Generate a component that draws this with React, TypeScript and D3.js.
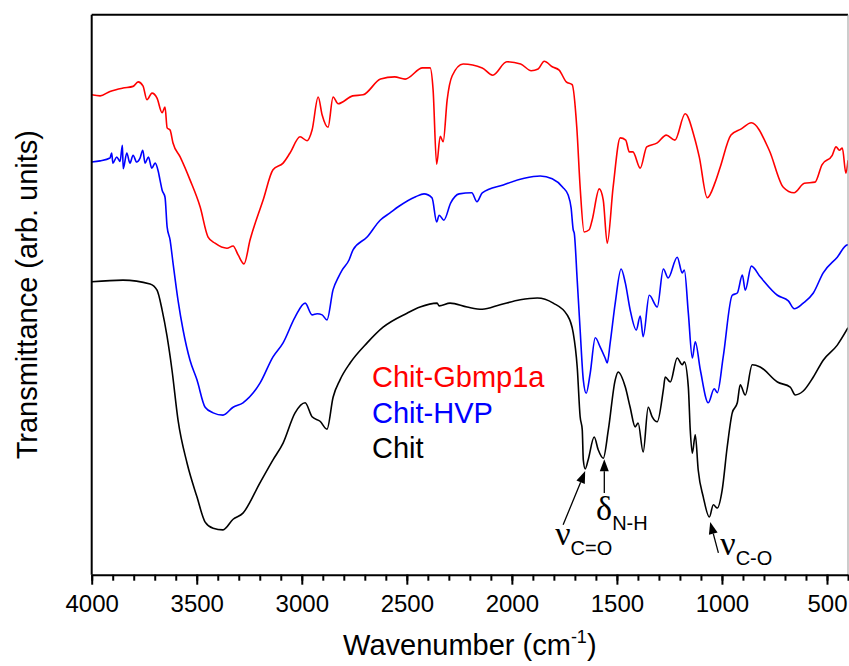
import React, { useRef, useEffect } from "react";
import * as d3 from "d3";

// FTIR spectra, [wavenumber (cm-1), transmittance (arb. units)]
const chitGbmp1a: [number, number][] = [
  [4000, 85.7], [3960, 85.5], [3913, 86.3], [3851, 86.9], [3803, 87.2], [3779, 88.0],
  [3756, 87.3], [3737, 84.8], [3713, 86.0], [3689, 85.1], [3665, 82.5], [3651, 83.5],
  [3641, 79.8], [3627, 79.4], [3613, 77.1], [3579, 74.6], [3532, 70.5], [3484, 65.7],
  [3446, 60.3], [3413, 59.2], [3356, 58.3], [3327, 58.7], [3303, 57.1], [3275, 55.5],
  [3246, 59.8], [3184, 66.9], [3137, 72.3], [3089, 73.5], [3056, 75.3], [3008, 78.2],
  [2975, 77.5], [2951, 79.4], [2922, 85.3], [2903, 82.1], [2875, 79.9], [2851, 85.3],
  [2827, 84.1], [2758, 85.5], [2708, 85.7], [2625, 88.5], [2558, 88.9], [2508, 88.5],
  [2425, 90.5], [2389, 90.5], [2375, 86.6], [2358, 73.3], [2341, 78.3], [2327, 77.3],
  [2308, 84.8], [2284, 89.1], [2232, 91.2], [2141, 90.5], [2091, 89.2], [2024, 91.6],
  [1958, 91.2], [1908, 90.0], [1875, 90.3], [1846, 91.7], [1808, 90.7], [1775, 90.1],
  [1741, 88.0], [1713, 87.5], [1691, 79.9], [1675, 69.2], [1656, 61.2], [1632, 61.6],
  [1618, 63.3], [1584, 68.9], [1565, 66.9], [1546, 59.2], [1518, 69.2], [1484, 78.0],
  [1458, 77.6], [1441, 75.5], [1424, 75.5], [1389, 72.6], [1358, 76.4], [1308, 77.1],
  [1265, 78.5], [1224, 77.6], [1175, 82.3], [1132, 78.2], [1108, 74.6], [1070, 67.3],
  [1032, 70.1], [1008, 72.8], [957, 78.5], [908, 79.6], [860, 80.7], [775, 75.8],
  [708, 69.2], [657, 68.2], [608, 69.9], [557, 70.1], [524, 73.2], [475, 74.9],
  [457, 76.4], [441, 75.8], [427, 76.2], [410, 71.7], [400, 74.0],
];

const chitHVP: [number, number][] = [
  [4000, 73.7], [3960, 73.9], [3913, 74.4], [3905, 75.3], [3899, 73.5], [3881, 74.6],
  [3865, 73.8], [3854, 76.7], [3850, 72.5], [3833, 75.3], [3818, 73.5], [3803, 74.9],
  [3786, 73.7], [3770, 74.4], [3757, 75.8], [3746, 73.5], [3730, 74.6], [3714, 72.6],
  [3698, 73.5], [3683, 72.0], [3675, 70.5], [3665, 68.7], [3651, 67.4], [3641, 62.1],
  [3627, 59.8], [3613, 55.7], [3589, 49.0], [3565, 43.7], [3532, 38.3], [3499, 34.8],
  [3460, 29.9], [3422, 28.9], [3375, 28.5], [3327, 29.9], [3280, 30.7], [3199, 34.2],
  [3137, 38.9], [3089, 41.4], [3032, 46.0], [2984, 48.5], [2951, 46.4], [2927, 46.6],
  [2903, 46.4], [2880, 45.5], [2851, 50.9], [2825, 53.2], [2808, 54.4], [2775, 56.2],
  [2756, 58.0], [2689, 60.3], [2627, 63.3], [2580, 64.6], [2541, 65.7], [2458, 67.5],
  [2418, 68.0], [2380, 67.3], [2358, 63.0], [2346, 64.2], [2324, 63.3], [2291, 66.4],
  [2251, 68.0], [2191, 68.2], [2166, 66.6], [2141, 68.2], [2041, 69.6], [1941, 70.8],
  [1865, 71.2], [1808, 70.7], [1758, 69.2], [1732, 67.8], [1718, 65.5], [1708, 61.6],
  [1703, 61.0], [1689, 52.6], [1675, 43.7], [1660, 34.8], [1646, 32.4], [1627, 36.0],
  [1603, 42.3], [1580, 40.7], [1556, 38.7], [1546, 37.8], [1532, 41.4], [1508, 48.5],
  [1480, 54.6], [1460, 52.1], [1437, 47.3], [1408, 43.7], [1389, 46.2], [1375, 42.5],
  [1346, 49.9], [1308, 47.8], [1279, 54.6], [1256, 53.0], [1213, 56.7], [1189, 53.9],
  [1179, 54.4], [1160, 46.7], [1141, 38.7], [1127, 41.6], [1103, 36.6], [1065, 30.7],
  [1037, 33.2], [1022, 32.5], [994, 38.9], [951, 49.9], [927, 50.3], [903, 53.5],
  [889, 50.8], [860, 55.1], [818, 53.2], [736, 49.9], [684, 48.9], [656, 47.5],
  [613, 48.5], [565, 50.3], [518, 53.9], [451, 56.7], [403, 58.9], [400, 58.9],
];

const chit: [number, number][] = [
  [4000, 52.3], [3851, 52.6], [3722, 51.9], [3689, 50.8], [3665, 47.3], [3641, 42.5],
  [3618, 36.6], [3589, 27.6], [3546, 19.9], [3499, 13.9], [3460, 9.4], [3422, 8.3],
  [3375, 8.0], [3327, 9.9], [3280, 11.0], [3199, 16.4], [3137, 20.5], [3089, 23.5],
  [3032, 28.9], [2984, 30.7], [2951, 28.2], [2913, 27.4], [2880, 26.0], [2851, 31.7],
  [2818, 34.8], [2770, 37.8], [2689, 41.4], [2613, 44.2], [2499, 46.7], [2437, 47.8],
  [2356, 48.5], [2346, 48.0], [2294, 48.5], [2213, 47.8], [2141, 47.4], [2056, 48.2],
  [1960, 49.1], [1879, 49.4], [1803, 48.5], [1737, 46.4], [1708, 43.2], [1689, 37.1],
  [1675, 28.2], [1665, 25.9], [1660, 20.5], [1651, 18.9], [1637, 20.5], [1608, 24.6],
  [1589, 22.3], [1565, 20.8], [1541, 25.8], [1508, 34.8], [1494, 36.2], [1460, 33.5],
  [1437, 29.9], [1413, 26.4], [1399, 27.1], [1375, 21.9], [1351, 29.9], [1332, 28.2],
  [1308, 27.3], [1279, 33.0], [1270, 35.3], [1246, 34.4], [1213, 38.7], [1189, 37.5],
  [1179, 38.0], [1160, 33.5], [1151, 25.9], [1141, 21.7], [1127, 25.0], [1113, 18.7],
  [1089, 13.9], [1060, 10.3], [1041, 12.5], [1022, 11.9], [999, 15.1], [975, 22.8],
  [951, 28.9], [927, 30.7], [913, 33.9], [889, 32.1], [856, 37.5], [818, 37.1],
  [736, 34.4], [675, 33.5], [651, 32.1], [613, 32.8], [565, 35.3], [518, 38.3],
  [451, 41.0], [400, 44.1],
];

const seriesNames = ["Chit-Gbmp1a", "Chit-HVP", "Chit"];
const seriesColors = ["#ff0000", "#0000ff", "#000000"];
const seriesData = [chitGbmp1a, chitHVP, chit];

const majorTicks = [4000, 3500, 3000, 2500, 2000, 1500, 1000, 500];
const minorTicks = d3.range(4000, 399, -100);

// band assignments: symbol, subscript, arrow tip [wn, T], arrow tail [wn, T], label [wn, T]
const bands = [
  { sym: "\u03bd", sub: "C=O", tip: [1651, 18.5], tail: [1756, 8.9], label: [1794, 5.3] },
  { sym: "\u03b4", sub: "N-H", tip: [1560, 20.6], tail: [1560, 14.6], label: [1599, 9.8] },
  { sym: "\u03bd", sub: "C-O", tip: [1056, 9.4], tail: [1017, 3.9], label: [1008, 3.5] },
];

const W = 849;
const H = 666;
const font = "'Liberation Sans', Arial, sans-serif";

const App = () => {
  const svgRef = useRef<SVGSVGElement>(null);

  useEffect(() => {
    const svg = d3.select(svgRef.current);
    svg.selectAll("*").remove();

    const left = 91.7, right = 848, top = 14.7, bottom = 574.7;
    const x = d3.scaleLinear().domain([4000, 400]).range([left, right]);
    const y = d3.scaleLinear().domain([0, 100]).range([bottom, top]);

    svg
      .append("defs")
      .append("clipPath")
      .attr("id", "plot-clip")
      .append("rect")
      .attr("x", left)
      .attr("y", top)
      .attr("width", right - left)
      .attr("height", bottom - top);

    // Spectra
    const line = d3
      .line<[number, number]>()
      .x((d) => x(d[0]))
      .y((d) => y(d[1]))
      .curve(d3.curveMonotoneX);

    seriesData.forEach((data, i) => {
      svg
        .append("path")
        .datum(data)
        .attr("clip-path", "url(#plot-clip)")
        .attr("d", line)
        .attr("fill", "none")
        .attr("stroke", seriesColors[i])
        .attr("stroke-width", 1.6)
        .attr("stroke-linejoin", "round");
    });

    // Frame
    svg.append("line").attr("x1", left).attr("x2", right).attr("y1", top).attr("y2", top)
      .attr("stroke", "#000").attr("stroke-width", 2);
    svg.append("line").attr("x1", left).attr("x2", left).attr("y1", top).attr("y2", bottom)
      .attr("stroke", "#000").attr("stroke-width", 2);
    svg.append("line").attr("x1", right).attr("x2", right).attr("y1", top).attr("y2", bottom)
      .attr("stroke", "#999").attr("stroke-width", 1);

    // X axis: minor ticks, then major ticks with labels
    const minorAxis = svg
      .append("g")
      .attr("transform", `translate(0,${bottom})`)
      .call(d3.axisBottom(x).tickValues(minorTicks).tickSize(6).tickSizeOuter(0).tickFormat(() => ""));
    minorAxis.select(".domain").remove();
    minorAxis.selectAll("line").attr("stroke-width", 2);

    const majorAxis = svg
      .append("g")
      .attr("transform", `translate(0,${bottom})`)
      .call(
        d3.axisBottom(x).tickValues(majorTicks).tickSize(10).tickSizeOuter(0).tickPadding(10)
          .tickFormat(d3.format("d"))
      );
    majorAxis.select(".domain").attr("stroke-width", 2);
    majorAxis.selectAll("line").attr("stroke-width", 2);
    majorAxis.selectAll("text").attr("font-family", font).attr("font-size", 24).attr("fill", "#000");

    // Axis titles
    const xt = svg
      .append("text")
      .attr("x", (left + right) / 2)
      .attr("y", 655)
      .attr("text-anchor", "middle")
      .attr("font-family", font)
      .attr("font-size", 29);
    xt.append("tspan").text("Wavenumber (cm");
    xt.append("tspan").attr("font-size", 18).attr("dy", -12).text("-1");
    xt.append("tspan").attr("dy", 12).text(")");

    svg
      .append("text")
      .attr("transform", `translate(37,${(top + bottom) / 2}) rotate(-90)`)
      .attr("text-anchor", "middle")
      .attr("font-family", font)
      .attr("font-size", 29)
      .text("Transmittance (arb. units)");

    // Legend
    seriesNames.forEach((name, i) => {
      svg
        .append("text")
        .attr("x", 372)
        .attr("y", 387 + i * 35.5)
        .attr("font-family", font)
        .attr("font-size", 29)
        .attr("fill", seriesColors[i])
        .text(name);
    });

    // Band annotations
    bands.forEach((b) => {
      const tx = x(b.tip[0]), ty = y(b.tip[1]);
      const sx = x(b.tail[0]), sy = y(b.tail[1]);
      const ang = Math.atan2(ty - sy, tx - sx);
      const len = 12, half = 4.5;
      const bx = tx - Math.cos(ang) * len, by = ty - Math.sin(ang) * len;
      svg.append("line").attr("x1", sx).attr("y1", sy).attr("x2", bx).attr("y2", by)
        .attr("stroke", "#000").attr("stroke-width", 1.3);
      svg
        .append("path")
        .attr(
          "d",
          `M${tx},${ty}L${bx + Math.sin(ang) * half},${by - Math.cos(ang) * half}` +
            `L${bx - Math.sin(ang) * half},${by + Math.cos(ang) * half}Z`
        )
        .attr("fill", "#000");

      const t = svg
        .append("text")
        .attr("x", x(b.label[0]))
        .attr("y", y(b.label[1]));
      t.append("tspan").attr("font-family", "'Liberation Serif', 'Times New Roman', serif")
        .attr("font-size", 34).text(b.sym);
      t.append("tspan").attr("font-family", font).attr("font-size", 20).attr("dy", 10).text(b.sub);
    });
  }, []);

  return (
    <svg
      ref={svgRef}
      width={W}
      height={H}
      style={{ position: "absolute", left: 0, top: 0, background: "#fff" }}
    />
  );
};

export default App;
